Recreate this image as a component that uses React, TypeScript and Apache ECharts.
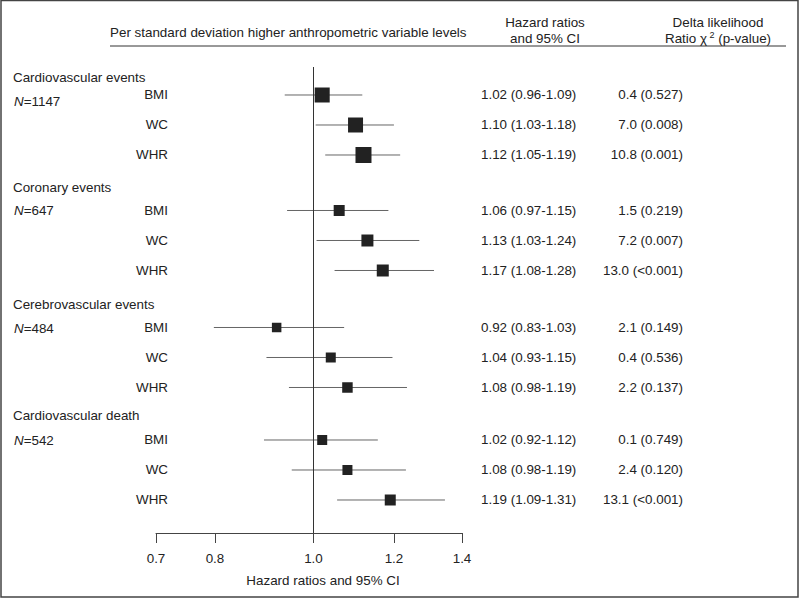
import React, { useEffect, useRef } from "react";
import * as echarts from "echarts";

// ---- data ----
const groupNames = ["Cardiovascular events", "Coronary events", "Cerebrovascular events", "Cardiovascular death"];
const groupN = ["1147", "647", "484", "542"];
const variables = ["BMI", "WC", "WHR"];
const hazardRatio = [1.02, 1.10, 1.12, 1.06, 1.13, 1.17, 0.92, 1.04, 1.08, 1.02, 1.08, 1.19];
const ciLow = ["0.96", "1.03", "1.05", "0.97", "1.03", "1.08", "0.83", "0.93", "0.98", "0.92", "0.98", "1.09"];
const ciHigh = ["1.09", "1.18", "1.19", "1.15", "1.24", "1.28", "1.03", "1.15", "1.19", "1.12", "1.19", "1.31"];
// whisker ends as drawn in the figure
const whiskerLow = [0.937, 1.005, 1.027, 0.942, 1.007, 1.049, 0.798, 0.899, 0.946, 0.894, 0.952, 1.055];
const whiskerHigh = [1.117, 1.2, 1.217, 1.185, 1.271, 1.314, 1.072, 1.196, 1.236, 1.157, 1.233, 1.347];
const markerWeight = [15, 15, 16, 11, 12, 12, 9.5, 10, 10.5, 10, 10, 11];
const chi2 = ["0.4", "7.0", "10.8", "1.5", "7.2", "13.0", "2.1", "0.4", "2.2", "0.1", "2.4", "13.1"];
const pValues = ["0.527", "0.008", "0.001", "0.219", "0.007", "<0.001", "0.149", "0.536", "0.137", "0.749", "0.120", "<0.001"];
const tickValues = [0.7, 0.8, 1.0, 1.2, 1.4];

// ---- layout ----
const groupStart = [0, 3.85, 7.75, 11.5];
const titleDy = [-17, -23, -23, -24];
const nDy = [7, 0, 1, 1];

const FONT = "'Liberation Sans', Arial, Helvetica, sans-serif";
const TXT = "#222";
const FS = 13.4;

export default function App() {
  const ref = useRef<HTMLDivElement>(null);
  useEffect(() => {
    const chart = echarts.init(ref.current!, null, { renderer: "svg" });
    const rowY = hazardRatio.map((_, i) => groupStart[Math.floor(i / 3)] + (i % 3));
    const data = hazardRatio.map((v, i) => [
      Math.log(v),
      Math.log(whiskerLow[i]),
      Math.log(whiskerHigh[i]),
      rowY[i],
      markerWeight[i],
    ]);
    const tickVals = tickValues.map((t) => Math.log(t));

    chart.setOption({
      animation: false,
      grid: { left: 156, right: 338, top: 67, bottom: 66 },
      xAxis: {
        type: "value",
        position: "bottom",
        min: Math.log(0.7),
        max: Math.log(1.4),
        axisLine: { show: true, onZero: false, lineStyle: { color: "#444", width: 1 } },
        axisTick: { show: true, customValues: tickVals, length: 10, lineStyle: { color: "#444" } },
        axisLabel: {
          customValues: tickVals,
          formatter: (v: number) => Math.exp(v).toFixed(1),
          margin: 19,
          fontSize: FS,
          color: TXT,
          fontFamily: FONT,
        },
        splitLine: { show: false },
      },
      yAxis: { type: "value", inverse: true, min: -0.9333, max: 14.6, show: false },
      series: [
        {
          type: "custom",
          data,
          encode: { x: [0, 1, 2], y: 3 },
          renderItem: (params: any, api: any) => {
            const est = api.value(0);
            const lo = api.value(1);
            const hi = api.value(2);
            const y = api.value(3);
            const s = api.value(4);
            const pLo = api.coord([lo, y]);
            const pHi = api.coord([hi, y]);
            const pE = api.coord([est, y]);
            return {
              type: "group",
              children: [
                {
                  type: "line",
                  shape: { x1: pLo[0], y1: pLo[1], x2: pHi[0], y2: pHi[1] },
                  style: { stroke: "#666", lineWidth: 1 },
                },
                {
                  type: "rect",
                  shape: { x: pE[0] - s / 2, y: pE[1] - s / 2, width: s, height: s },
                  style: { fill: "#222" },
                },
              ],
            };
          },
          markLine: {
            silent: true,
            symbol: ["none", "none"],
            label: { show: false },
            lineStyle: { color: "#333", type: "solid", width: 1 },
            data: [{ xAxis: 0 }],
          },
        },
      ],
    });

    const py = (y: number) => chart.convertToPixel({ yAxisIndex: 0 }, y) as number;
    const txt = (text: string, x: number, y: number, align: string, extra: any = {}) => ({
      type: "text",
      x,
      y,
      silent: true,
      style: { text, align, verticalAlign: "middle", fontSize: FS, fontFamily: FONT, fill: TXT, ...extra },
    });

    const els: any[] = [];
    // frame
    els.push({
      type: "rect",
      silent: true,
      shape: { x: 1, y: 0.5, width: 797, height: 596.5 },
      style: { fill: "none", stroke: "#444", lineWidth: 1.5 },
    });
    // header
    els.push(txt("Per standard deviation higher anthropometric variable levels", 110, 32, "left"));
    els.push(txt("Hazard ratios", 545, 22, "center"));
    els.push(txt("and 95% CI", 545, 38, "center"));
    els.push(txt("Delta likelihood", 718, 22, "center"));
    els.push(
      txt("{a|Ratio χ}{s| 2}{a| (p-value)}", 718, 38, "center", {
        rich: {
          a: { fontSize: FS, fontFamily: FONT, fill: TXT },
          s: { fontSize: 9, fontFamily: FONT, fill: TXT, padding: [0, 0, 7, 0] },
        },
      })
    );
    els.push({
      type: "line",
      silent: true,
      shape: { x1: 110, y1: 46, x2: 786, y2: 46 },
      style: { stroke: "#333", lineWidth: 1 },
    });
    // axis title
    els.push(txt("Hazard ratios and 95% CI", 323, 580, "center"));

    // groups
    groupNames.forEach((g, gi) => {
      const y0 = py(groupStart[gi]);
      els.push(txt(g, 13, y0 + titleDy[gi], "left"));
      els.push(
        txt("{i|N}{a|=" + groupN[gi] + "}", 14, y0 + nDy[gi], "left", {
          rich: {
            i: { fontSize: FS, fontFamily: FONT, fill: TXT, fontStyle: "italic" },
            a: { fontSize: FS, fontFamily: FONT, fill: TXT },
          },
        })
      );
    });
    // rows
    hazardRatio.forEach((v, i) => {
      const y = py(rowY[i]);
      els.push(txt(variables[i % 3], 168, y, "right"));
      els.push(txt(`${v.toFixed(2)} (${ciLow[i]}-${ciHigh[i]})`, 481, y, "left"));
      els.push(txt(`${chi2[i]} (${pValues[i]})`, 683, y, "right"));
    });

    chart.setOption({ graphic: { elements: els } });

    return () => chart.dispose();
  }, []);

  return (
    <div
      ref={ref}
      style={{ position: "fixed", left: 0, top: 0, width: 800, height: 599, background: "#fff" }}
    />
  );
}
